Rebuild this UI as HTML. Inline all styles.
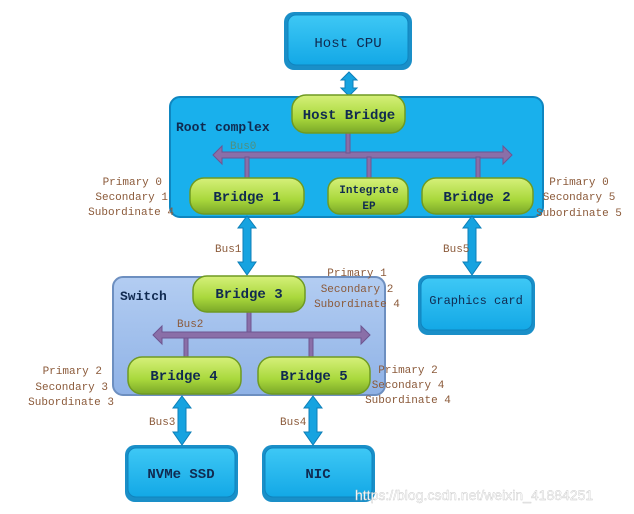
<!DOCTYPE html>
<html><head><meta charset="utf-8"><style>
html,body{margin:0;padding:0;background:#fff;width:634px;height:514px;overflow:hidden}
svg{display:block}
text{font-family:"Liberation Mono","DejaVu Sans Mono",monospace}
.lbl{fill:#8b5a3a;font-size:11px}
.nm{fill:#102a50;font-size:14px;font-weight:bold}
.bus{fill:#5a8a9a;font-size:11px}
</style></head><body>
<svg width="634" height="514" viewBox="0 0 634 514" xmlns="http://www.w3.org/2000/svg">
<defs>
<linearGradient id="bl" x1="0" y1="0" x2="0" y2="1"><stop offset="0" stop-color="#3ec8f5"/><stop offset="1" stop-color="#13a8e6"/></linearGradient>
<linearGradient id="gr" x1="0" y1="0" x2="0" y2="1"><stop offset="0" stop-color="#d6f07a"/><stop offset="0.6" stop-color="#a9d83c"/><stop offset="1" stop-color="#7aa828"/></linearGradient>
<linearGradient id="sw" x1="0" y1="0" x2="0" y2="1"><stop offset="0" stop-color="#b3cdf2"/><stop offset="1" stop-color="#8fb2e6"/></linearGradient>
</defs>
<!-- blue device boxes -->
<g>
<rect x="284" y="12" width="128" height="58" rx="10" fill="#1a8fc8"/>
<rect x="288" y="15" width="120" height="50" rx="8" fill="url(#bl)" stroke="#0f84be"/>
<rect x="418" y="275" width="117" height="60" rx="10" fill="#1a8fc8"/>
<rect x="421" y="278" width="111" height="52" rx="8" fill="url(#bl)" stroke="#0f84be"/>
<rect x="125" y="445" width="113" height="57" rx="10" fill="#1a8fc8"/>
<rect x="128" y="448" width="107" height="49" rx="8" fill="url(#bl)" stroke="#0f84be"/>
<rect x="262" y="445" width="113" height="57" rx="10" fill="#1a8fc8"/>
<rect x="265" y="448" width="107" height="49" rx="8" fill="url(#bl)" stroke="#0f84be"/>
</g>
<!-- root complex -->
<rect x="170" y="97" width="373" height="120" rx="10" fill="#19b0ec" stroke="#0e86c0" stroke-width="2"/>
<!-- switch -->
<rect x="113" y="277" width="272" height="118" rx="10" fill="url(#sw)" stroke="#6d8fc0" stroke-width="2"/>
<!-- blue vertical double arrows -->
<g fill="#16a3e0" stroke="#0d7fb8" stroke-width="1">
<path d="M349 72 L357 80 L353 80 L353 88 L357 88 L349 96 L341 88 L345 88 L345 80 L341 80 Z"/>
<path d="M247 216 L256 228 L251 228 L251 262 L256 262 L247 275 L238 262 L243 262 L243 228 L238 228 Z"/>
<path d="M472 216 L481 228 L476 228 L476 262 L481 262 L472 275 L463 262 L468 262 L468 228 L463 228 Z"/>
<path d="M182 396 L191 408 L186 408 L186 432 L191 432 L182 445 L173 432 L178 432 L178 408 L173 408 Z"/>
<path d="M313 396 L322 408 L317 408 L317 432 L322 432 L313 445 L304 432 L309 432 L309 408 L304 408 Z"/>
</g>
<!-- bus0 -->
<g fill="#8a6fa8" stroke="#6e5590" stroke-width="1">
<path d="M213 155 L222 146 L222 152 L503 152 L503 146 L512 155 L503 164 L503 158 L222 158 L222 164 Z"/>
<rect x="346" y="133" width="4" height="20"/>
<rect x="245" y="157" width="4" height="21"/>
<rect x="367" y="157" width="4" height="21"/>
<rect x="476" y="157" width="4" height="21"/>
<path d="M153 335 L162 326 L162 332 L361 332 L361 326 L370 335 L361 344 L361 338 L162 338 L162 344 Z"/>
<rect x="247" y="312" width="4" height="20"/>
<rect x="184" y="338" width="4" height="19"/>
<rect x="309" y="338" width="4" height="19"/>
</g>
<!-- green bridges -->
<g fill="url(#gr)" stroke="#6f9a22" stroke-width="1.5">
<rect x="292" y="95" width="113" height="38" rx="14"/>
<rect x="190" y="178" width="114" height="36" rx="14"/>
<rect x="328" y="178" width="80" height="36" rx="12"/>
<rect x="422" y="178" width="111" height="36" rx="14"/>
<rect x="193" y="276" width="112" height="36" rx="14"/>
<rect x="128" y="357" width="113" height="37" rx="14"/>
<rect x="258" y="357" width="112" height="37" rx="14"/>
</g>
<!-- names -->
<text class="nm" x="348" y="47" text-anchor="middle" style="font-weight:normal">Host CPU</text>
<text class="nm" x="349" y="119" text-anchor="middle">Host Bridge</text>
<text class="nm" x="176" y="131" style="font-size:13px">Root complex</text>
<text class="nm" x="247" y="201" text-anchor="middle">Bridge 1</text>
<text class="nm" x="369" y="193" text-anchor="middle" style="font-size:11px">Integrate</text>
<text class="nm" x="369" y="209" text-anchor="middle" style="font-size:11px">EP</text>
<text class="nm" x="477" y="201" text-anchor="middle">Bridge 2</text>
<text class="nm" x="476" y="304" text-anchor="middle" style="font-size:12px;font-weight:normal">Graphics card</text>
<text class="nm" x="120" y="300" style="font-size:13px">Switch</text>
<text class="nm" x="249" y="298" text-anchor="middle">Bridge 3</text>
<text class="nm" x="184" y="380" text-anchor="middle">Bridge 4</text>
<text class="nm" x="314" y="380" text-anchor="middle">Bridge 5</text>
<text class="nm" x="181" y="478" text-anchor="middle">NVMe SSD</text>
<text class="nm" x="318" y="478" text-anchor="middle">NIC</text>
<!-- bus labels -->
<text class="bus" x="230" y="149" style="fill:#4f8f7f">Bus0</text>
<text class="bus" x="177" y="327" style="fill:#8b5a3a">Bus2</text>
<text class="lbl" x="215" y="252">Bus1</text>
<text class="lbl" x="443" y="252">Bus5</text>
<text class="lbl" x="149" y="425">Bus3</text>
<text class="lbl" x="280" y="425">Bus4</text>
<!-- primary/secondary labels -->
<g class="lbl" text-anchor="end">
<text x="162" y="185">Primary 0</text>
<text x="168" y="200">Secondary 1</text>
<text x="174" y="215">Subordinate 4</text>
<text x="102" y="374">Primary 2</text>
<text x="108" y="390">Secondary 3</text>
<text x="114" y="405">Subordinate 3</text>
</g>
<g class="lbl" text-anchor="middle">
<text x="579" y="185">Primary 0</text>
<text x="579" y="200">Secondary 5</text>
<text x="579" y="216">Subordinate 5</text>
<text x="357" y="276">Primary 1</text>
<text x="357" y="292">Secondary 2</text>
<text x="357" y="307">Subordinate 4</text>
<text x="408" y="373">Primary 2</text>
<text x="408" y="388">Secondary 4</text>
<text x="408" y="403">Subordinate 4</text>
</g>
<text x="355" y="500" style="font-family:'Liberation Sans',sans-serif;font-size:14px;fill:#ffffff;stroke:#c8c8c8;stroke-width:0.4">https://blog.csdn.net/weixin_41884251</text>
</svg>
</body></html>
